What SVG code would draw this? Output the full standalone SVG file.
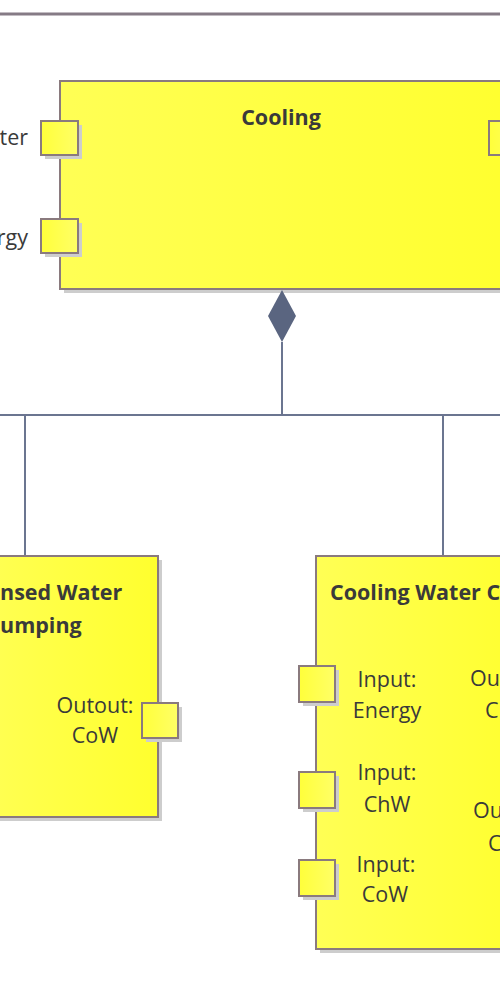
<svg xmlns="http://www.w3.org/2000/svg" width="500" height="1000" viewBox="0 0 500 1000">
<defs>
<linearGradient id="yg" x1="0" y1="0" x2="1" y2="0">
<stop offset="0" stop-color="#ffff55"/>
<stop offset="1" stop-color="#ffff2e"/>
</linearGradient>
<linearGradient id="pg" x1="0" y1="0" x2="1" y2="0">
<stop offset="0" stop-color="#ffff3a"/>
<stop offset="1" stop-color="#ffff66"/>
</linearGradient>
</defs>
<style>
.box{fill:url(#yg);stroke:#8a7a7e;stroke-width:2}
.port{fill:url(#pg);stroke:#8a7a7e;stroke-width:2}
.sh{fill:#cdcdcd}
.t{font-family:"Open Sans","Noto Sans",sans-serif;font-size:21.5px;fill:#3a3a3a}
.b{font-weight:bold;font-size:21.5px}
.c{text-anchor:middle}
.e{text-anchor:end}
.ln{stroke:#6b7590;stroke-width:2;fill:none}
</style>
<rect x="0" y="0" width="500" height="1000" fill="#ffffff"/>
<line x1="0" y1="14" x2="500" y2="14" stroke="#857b85" stroke-width="3"/>

<g id="cooling">
<rect class="sh" x="64" y="85" width="450" height="208"/>
<rect class="box" x="60" y="81" width="460" height="208"/>
<text class="t b c" x="281" y="125">Cooling</text>
<rect class="sh" x="45" y="125" width="37" height="34"/>
<rect class="port" x="41" y="121" width="37" height="34"/>
<rect class="sh" x="45" y="223" width="37" height="34"/>
<rect class="port" x="41" y="219" width="37" height="34"/>
<rect class="port" x="489" y="121" width="37" height="34"/>
<text class="t e" x="28" y="145">ter</text>
<text class="t e" x="28" y="245">rgy</text>
</g>

<g id="connectors">
<polygon points="282,290 296,316 282,342 268,316" fill="#5a6580"/>
<line class="ln" x1="282" y1="342" x2="282" y2="415"/>
<line class="ln" x1="0" y1="415" x2="500" y2="415"/>
<line class="ln" x1="25" y1="415" x2="25" y2="556"/>
<line class="ln" x1="443" y1="415" x2="443" y2="556"/>
</g>

<g id="condensed-water-pumping">
<rect class="sh" x="-16" y="560" width="178" height="261"/>
<rect class="box" x="-20" y="556" width="178" height="261"/>
<text class="t b" x="0" y="600">nsed Water</text>
<text class="t b" x="0" y="633">umping</text>
<rect class="sh" x="146" y="707" width="36" height="35"/>
<rect class="port" x="142" y="703" width="36" height="35"/>
<text class="t c" x="95" y="713">Outout:</text>
<text class="t c" x="95" y="743">CoW</text>
</g>

<g id="cooling-water-chiller">
<rect class="sh" x="320" y="560" width="200" height="393"/>
<rect class="box" x="316" y="556" width="210" height="393"/>
<text class="t b" x="330" y="600">Cooling Water Ch</text>
<rect class="sh" x="303" y="670" width="36" height="36"/>
<rect class="port" x="299" y="666" width="36" height="36"/>
<rect class="sh" x="303" y="776" width="36" height="36"/>
<rect class="port" x="299" y="772" width="36" height="36"/>
<rect class="sh" x="303" y="864" width="36" height="36"/>
<rect class="port" x="299" y="860" width="36" height="36"/>
<text class="t c" x="387" y="687">Input:</text>
<text class="t c" x="387" y="718">Energy</text>
<text class="t c" x="387" y="780">Input:</text>
<text class="t c" x="387" y="812">ChW</text>
<text class="t c" x="386" y="872">Input:</text>
<text class="t c" x="385" y="902">CoW</text>
<text class="t" x="470" y="686">Out</text>
<text class="t" x="485" y="718">Ch</text>
<text class="t" x="473" y="818">Ou</text>
<text class="t" x="488" y="851">C</text>
</g>
</svg>
